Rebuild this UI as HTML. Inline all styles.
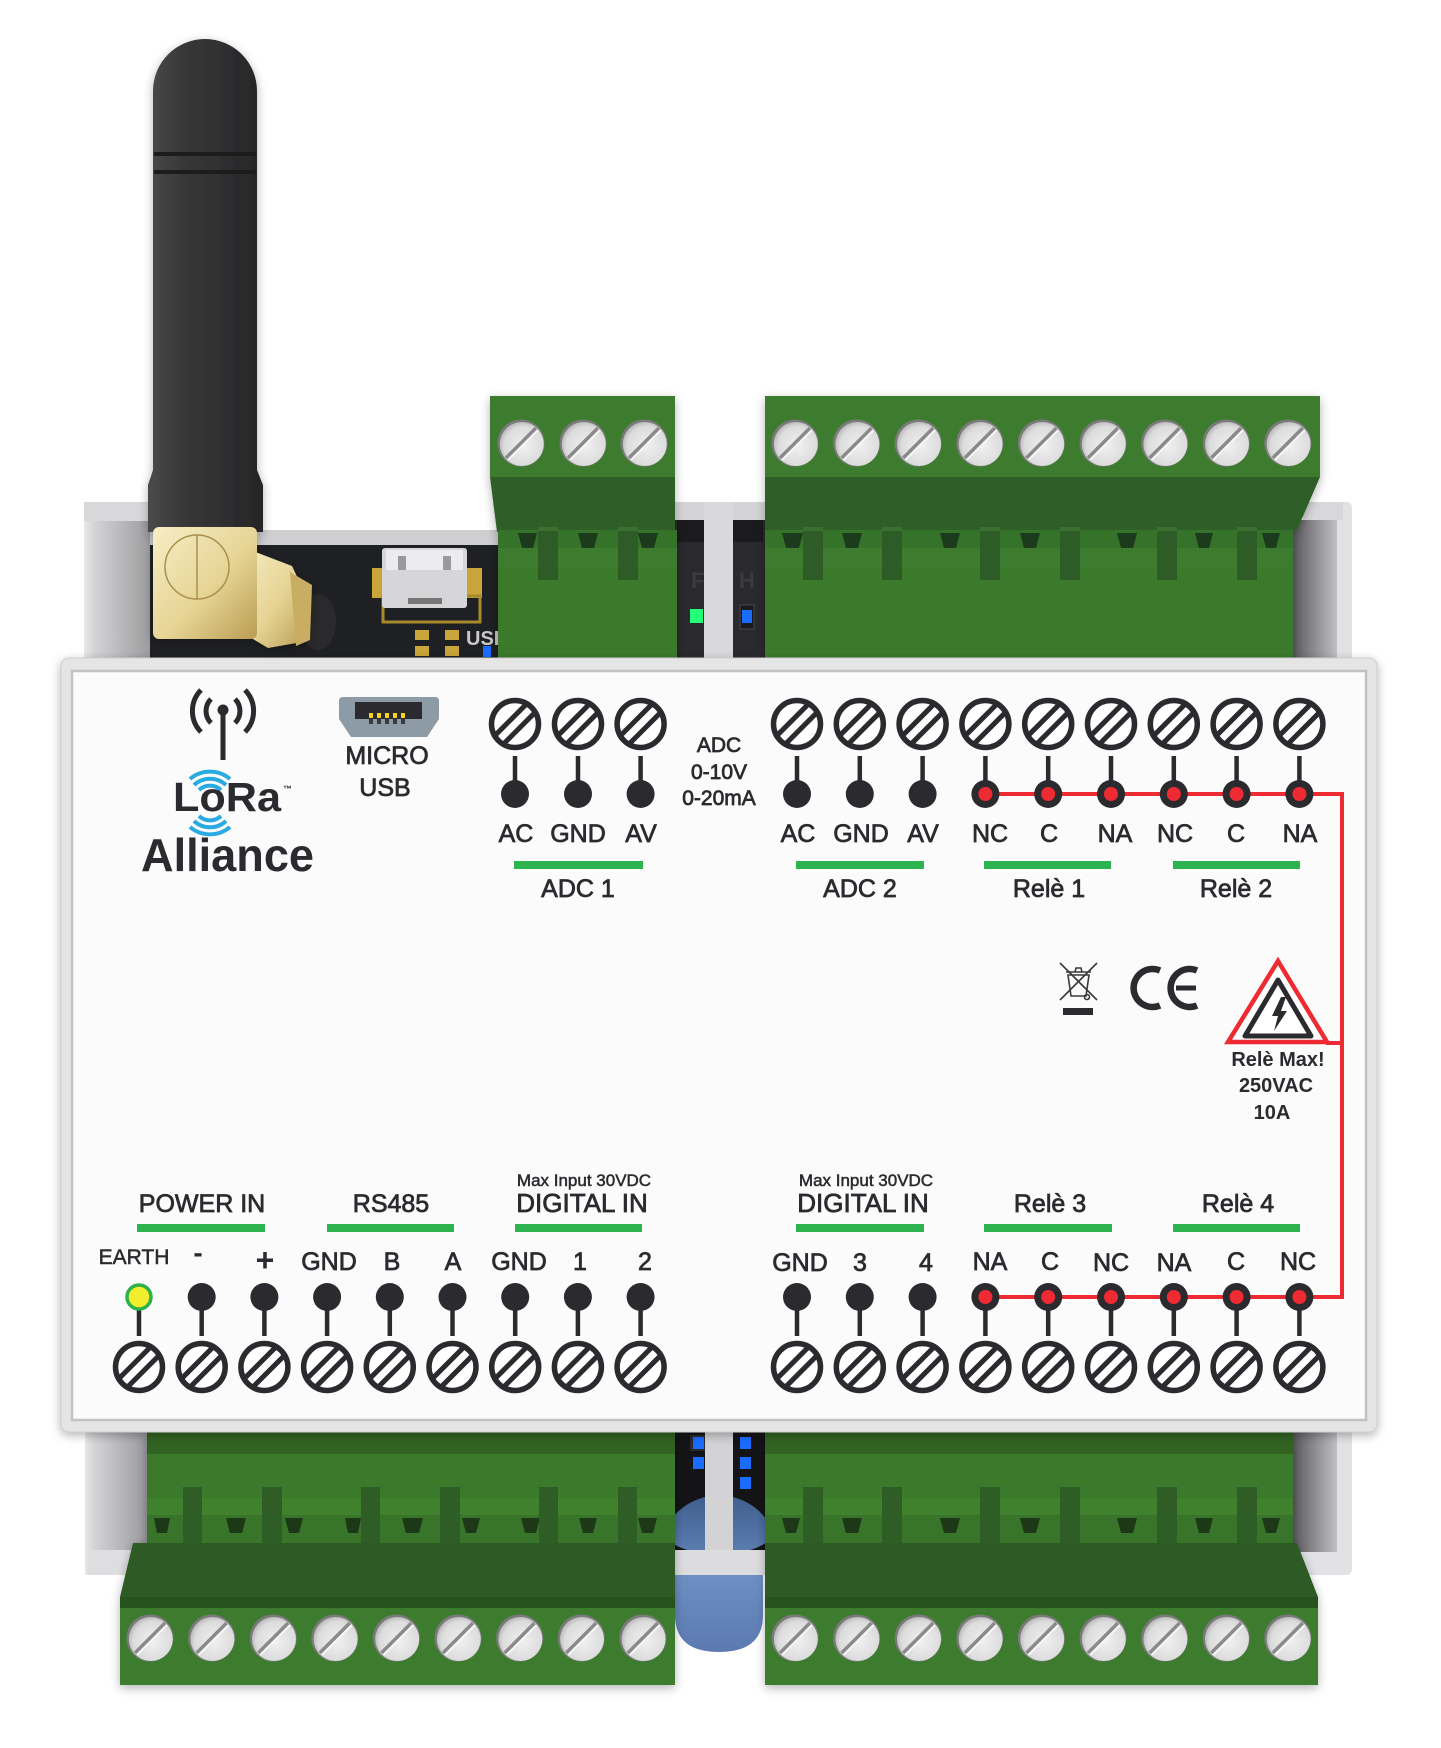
<!DOCTYPE html>
<html><head><meta charset="utf-8">
<style>
html,body{margin:0;padding:0;background:#fff;}
svg{display:block;}
text{font-family:"Liberation Sans",Arial,sans-serif;fill:#2b2a2e;}
.w text, text.w{stroke:#2b2a2e;stroke-width:0.75px;}
</style></head><body>
<svg width="1441" height="1748" viewBox="0 0 1441 1748" xmlns="http://www.w3.org/2000/svg">
<defs>
 <linearGradient id="ant" x1="0" x2="1" y1="0" y2="0"><stop offset="0" stop-color="#4a4a4c"/><stop offset="0.3" stop-color="#38383a"/><stop offset="1" stop-color="#262628"/></linearGradient>
 <linearGradient id="gold" x1="0" x2="1" y1="0" y2="1"><stop offset="0" stop-color="#f7edc6"/><stop offset="0.55" stop-color="#e6d494"/><stop offset="1" stop-color="#b99c52"/></linearGradient>
 <radialGradient id="sg" cx="0.55" cy="0.55" r="0.6"><stop offset="0" stop-color="#f0f0f0"/><stop offset="0.75" stop-color="#dcdcdc"/><stop offset="1" stop-color="#b0b0b0"/></radialGradient>
 <linearGradient id="hl" x1="0" x2="1"><stop offset="0" stop-color="#e8e8e8"/><stop offset="0.15" stop-color="#d4d4d6"/><stop offset="1" stop-color="#9a9a9e"/></linearGradient>
 <linearGradient id="hr" x1="0" x2="1"><stop offset="0" stop-color="#5a5a5e"/><stop offset="1" stop-color="#c0c0c3"/></linearGradient>
 <linearGradient id="dome" x1="0" x2="0" y1="0" y2="1"><stop offset="0" stop-color="#3f5e8f"/><stop offset="1" stop-color="#5b7db0"/></linearGradient>
 <linearGradient id="caps" x1="0" x2="0" y1="0" y2="1"><stop offset="0" stop-color="#6e8fc4"/><stop offset="1" stop-color="#5a7ab0"/></linearGradient>
 <filter id="sh" x="-5%" y="-5%" width="110%" height="115%"><feGaussianBlur in="SourceAlpha" stdDeviation="5"/><feOffset dy="3"/><feComponentTransfer><feFuncA type="linear" slope="0.3"/></feComponentTransfer><feMerge><feMergeNode/><feMergeNode in="SourceGraphic"/></feMerge></filter>
 <g id="s3">
  <circle r="23.5" fill="#7a7a7a"/>
  <circle r="22" cx="0.8" cy="1" fill="url(#sg)"/>
  <path d="M-15 15 L15 -15" stroke="#8a8a8a" stroke-width="3.5"/>
  <path d="M-13 17 L17 -13" stroke="#f6f6f6" stroke-width="2"/>
 </g>
 <g id="ps">
  <circle r="23.5" fill="#fff" stroke="#2b2a2e" stroke-width="5.5"/>
  <path d="M-11.8 20.3 L20.3 -11.8 M-20.3 11.8 L11.8 -20.3" stroke="#2b2a2e" stroke-width="5"/>
 </g>
 <g id="tabT"><rect x="0" y="0" width="20" height="53" fill="#2d5c26"/><rect x="0" y="0" width="20" height="4" fill="#3a7030"/></g>
</defs>

<!-- ===== TOP housing parts ===== -->
<rect x="84" y="502" width="68" height="156" fill="url(#hl)"/>
<rect x="84" y="502" width="68" height="19" fill="#d8d8da"/>
<rect x="150" y="530" width="350" height="15" fill="#cfcfd1"/>
<rect x="150" y="545" width="350" height="113" fill="#1f2023"/>
<rect x="372" y="568" width="14" height="30" fill="#c9a53a"/>
<rect x="466" y="568" width="16" height="30" fill="#c9a53a"/>
<rect x="383" y="596" width="97" height="26" fill="none" stroke="#a88a2e" stroke-width="3"/>
<rect x="382" y="548" width="85" height="60" rx="3" fill="#d6d6d8"/>
<rect x="386" y="550" width="77" height="20" fill="#ececee"/>
<rect x="398" y="556" width="8" height="14" fill="#9a9a9c"/>
<rect x="443" y="556" width="8" height="14" fill="#9a9a9c"/>
<rect x="408" y="598" width="34" height="6" fill="#777"/>
<rect x="415" y="630" width="14" height="10" fill="#c9a53a"/>
<rect x="445" y="630" width="14" height="10" fill="#c9a53a"/>
<rect x="415" y="646" width="14" height="10" fill="#c9a53a"/>
<rect x="445" y="646" width="14" height="10" fill="#c9a53a"/>
<rect x="483" y="646" width="8" height="11" fill="#1a6cff"/>
<text x="466" y="645" font-size="20" font-weight="bold" style="fill:#c8c8ca">USB</text>
<rect x="157" y="609" width="7" height="8" fill="#1a6cff"/>
<text x="158" y="675" font-size="24" font-weight="bold" style="fill:#7a7a7c">ARIO</text>
<ellipse cx="318" cy="622" rx="18" ry="28" fill="#2a2a2c"/>

<!-- top middle gap -->
<rect x="675" y="502" width="90" height="156" fill="#2a2a2e"/>
<rect x="675" y="502" width="90" height="18" fill="#d4d4d6"/>
<rect x="677" y="520" width="86" height="22" fill="#000" opacity="0.35"/>
<rect x="704" y="502" width="29" height="156" fill="#d9d9db"/>
<text x="691" y="588" font-size="22" font-weight="bold" style="fill:#3b3b3e">F</text>
<text x="739" y="588" font-size="22" font-weight="bold" style="fill:#3b3b3e">H</text>
<rect x="690" y="609" width="13" height="14" fill="#22ff77"/>
<rect x="740" y="605" width="14" height="24" fill="#1a1a1c" stroke="#48484c" stroke-width="1"/>
<rect x="742" y="610" width="10" height="13" fill="#1a6cff"/>

<!-- right top housing -->
<rect x="1293" y="520" width="44" height="138" fill="url(#hr)"/>
<path d="M1303 502 H1346 Q1352 502 1352 508 V658 H1337 V520 H1303 Z" fill="#e2e2e4"/>
<rect x="1303" y="502" width="40" height="18" fill="#d8d8da"/>

<!-- ===== TOP terminal blocks ===== -->
<g filter="url(#sh)">
 <rect x="490" y="396" width="185" height="81" fill="#3e7b2f"/>
 <polygon points="490,477 675,477 675,532 497,532" fill="#2f5e28"/>
 <rect x="498" y="530" width="179" height="128" fill="#3b7a2c"/>
 <rect x="498" y="530" width="179" height="37" fill="#36722a"/>
 <rect x="498" y="548" width="179" height="19" fill="#3c7c2e"/>
 <g fill="#1d3a1a">
  <polygon points="518,533 537,533 533,548 522,548"/>
  <polygon points="578,533 598,533 594,548 582,548"/>
  <polygon points="638,533 658,533 654,548 642,548"/>
 </g>
 <use href="#tabT" x="538" y="527"/><use href="#tabT" x="618" y="527"/>
 <use href="#s3" x="521" y="443"/><use href="#s3" x="583" y="443"/><use href="#s3" x="644" y="443"/>
</g>
<g filter="url(#sh)">
 <rect x="765" y="396" width="555" height="81" fill="#3e7b2f"/>
 <polygon points="765,477 1320,477 1297,530 765,530" fill="#2f5e28"/>
 <rect x="765" y="530" width="528" height="128" fill="#3b7a2c"/>
 <rect x="765" y="530" width="528" height="37" fill="#36722a"/>
 <rect x="765" y="548" width="528" height="19" fill="#3c7c2e"/>
 <g fill="#1d3a1a">
  <polygon points="782,533 803,533 799,548 786,548"/>
  <polygon points="842,533 862,533 858,548 846,548"/>
  <polygon points="940,533 960,533 956,548 944,548"/>
  <polygon points="1020,533 1040,533 1036,548 1024,548"/>
  <polygon points="1117,533 1137,533 1133,548 1121,548"/>
  <polygon points="1195,533 1213,533 1209,548 1199,548"/>
  <polygon points="1262,533 1280,533 1276,548 1266,548"/>
 </g>
 <use href="#tabT" x="803" y="527"/><use href="#tabT" x="882" y="527"/><use href="#tabT" x="980" y="527"/>
 <use href="#tabT" x="1060" y="527"/><use href="#tabT" x="1157" y="527"/><use href="#tabT" x="1237" y="527"/>
 <use href="#s3" x="795" y="443"/><use href="#s3" x="856.6" y="443"/><use href="#s3" x="918.2" y="443"/>
 <use href="#s3" x="979.8" y="443"/><use href="#s3" x="1041.4" y="443"/><use href="#s3" x="1103" y="443"/>
 <use href="#s3" x="1164.6" y="443"/><use href="#s3" x="1226.2" y="443"/><use href="#s3" x="1287.8" y="443"/>
</g>

<!-- ===== Antenna ===== -->
<g filter="url(#sh)">
 <path d="M153 91 A52 52 0 0 1 257 91 L257 470 L263 485 L263 532 L148 532 L148 485 L153 470 Z" fill="url(#ant)"/>
 <rect x="154" y="152" width="102" height="4" fill="#1b1b1d"/>
 <rect x="154" y="170" width="102" height="4" fill="#1b1b1d"/>
 <polygon points="245,548 292,566 308,600 302,642 268,648 238,630" fill="url(#gold)"/>
 <polygon points="290,572 312,585 310,640 296,646" fill="#c8ad62"/>
 <rect x="153" y="527" width="104" height="112" rx="6" fill="url(#gold)"/>
 <circle cx="197" cy="567" r="32" fill="none" stroke="#a98f4c" stroke-width="1.5"/>
 <line x1="197" y1="535" x2="197" y2="599" stroke="#a98f4c" stroke-width="1.5"/>
</g>

<!-- ===== BOTTOM housing parts ===== -->
<rect x="85" y="1432" width="62" height="143" fill="url(#hl)"/>
<rect x="90" y="1550" width="60" height="25" fill="#dedee0"/>
<rect x="1293" y="1432" width="44" height="143" fill="url(#hr)"/>
<path d="M1337 1432 H1352 V1569 Q1352 1575 1346 1575 H1293 V1552 H1337 Z" fill="#e2e2e4"/>
<rect x="675" y="1432" width="90" height="118" fill="#141416"/>
<rect x="690" y="1435" width="18" height="16" fill="#2a2a2c"/>
<rect x="693" y="1437" width="11" height="12" fill="#1a6cff"/>
<rect x="693" y="1457" width="11" height="12" fill="#1a6cff"/>
<rect x="740" y="1437" width="11" height="12" fill="#1a6cff"/>
<rect x="740" y="1457" width="11" height="12" fill="#1a6cff"/>
<rect x="740" y="1477" width="11" height="12" fill="#1a6cff"/>
<path d="M661 1535 Q680 1497 719 1495 Q758 1497 776 1535 Q760 1550 740 1552 L698 1552 Q678 1550 661 1535 Z" fill="url(#dome)"/>
<path d="M675 1575 L763 1575 L763 1615 Q763 1652 719 1652 Q675 1652 675 1615 Z" fill="url(#caps)"/>
<rect x="705" y="1432" width="28" height="143" fill="#d3d3d5"/>
<rect x="675" y="1550" width="90" height="25" fill="#dcdcde"/>

<!-- ===== BOTTOM terminal blocks ===== -->
<g filter="url(#sh)">
 <rect x="147" y="1432" width="528" height="111" fill="#3b7a2c"/>
 <rect x="147" y="1432" width="528" height="22" fill="#000" opacity="0.18"/>
 <rect x="147" y="1498" width="528" height="17" fill="#40812f"/>
 <rect x="147" y="1515" width="528" height="28" fill="#38752a"/>
 <g fill="#1c3819">
  <polygon points="154,1518 170,1518 167,1533 157,1533"/>
  <polygon points="226,1518 246,1518 242,1533 230,1533"/>
  <polygon points="285,1518 303,1518 299,1533 289,1533"/>
  <polygon points="345,1518 361,1518 358,1533 348,1533"/>
  <polygon points="402,1518 423,1518 419,1533 406,1533"/>
  <polygon points="462,1518 480,1518 476,1533 466,1533"/>
  <polygon points="521,1518 540,1518 536,1533 525,1533"/>
  <polygon points="579,1518 597,1518 593,1533 583,1533"/>
  <polygon points="638,1518 657,1518 653,1533 642,1533"/>
 </g>
 <g fill="#2d5d26">
  <rect x="183" y="1487" width="19" height="56"/><rect x="262" y="1487" width="20" height="56"/>
  <rect x="361" y="1487" width="19" height="56"/><rect x="440" y="1487" width="20" height="56"/>
  <rect x="539" y="1487" width="19" height="56"/><rect x="618" y="1487" width="19" height="56"/>
 </g>
 <polygon points="133,1543 675,1543 675,1597 120,1597" fill="#2f5a28"/>
 <rect x="120" y="1597" width="555" height="88" fill="#3c7b2d"/>
 <rect x="120" y="1597" width="555" height="11" fill="#28521f"/>
 <use href="#s3" x="150" y="1638"/><use href="#s3" x="211.6" y="1638"/><use href="#s3" x="273.2" y="1638"/>
 <use href="#s3" x="334.8" y="1638"/><use href="#s3" x="396.4" y="1638"/><use href="#s3" x="458" y="1638"/>
 <use href="#s3" x="519.6" y="1638"/><use href="#s3" x="581.2" y="1638"/><use href="#s3" x="642.8" y="1638"/>
</g>
<g filter="url(#sh)">
 <rect x="765" y="1432" width="528" height="111" fill="#3b7a2c"/>
 <rect x="765" y="1432" width="528" height="22" fill="#000" opacity="0.18"/>
 <rect x="765" y="1498" width="528" height="17" fill="#40812f"/>
 <rect x="765" y="1515" width="528" height="28" fill="#38752a"/>
 <g fill="#1c3819">
  <polygon points="782,1518 800,1518 796,1533 786,1533"/>
  <polygon points="842,1518 862,1518 858,1533 846,1533"/>
  <polygon points="940,1518 960,1518 956,1533 944,1533"/>
  <polygon points="1020,1518 1040,1518 1036,1533 1024,1533"/>
  <polygon points="1117,1518 1137,1518 1133,1533 1121,1533"/>
  <polygon points="1195,1518 1213,1518 1209,1533 1199,1533"/>
  <polygon points="1262,1518 1280,1518 1276,1533 1266,1533"/>
 </g>
 <g fill="#2d5d26">
  <rect x="803" y="1487" width="20" height="56"/><rect x="882" y="1487" width="20" height="56"/>
  <rect x="980" y="1487" width="20" height="56"/><rect x="1060" y="1487" width="20" height="56"/>
  <rect x="1157" y="1487" width="20" height="56"/><rect x="1237" y="1487" width="20" height="56"/>
 </g>
 <polygon points="765,1543 1297,1543 1318,1597 765,1597" fill="#2f5a28"/>
 <rect x="765" y="1597" width="553" height="88" fill="#3c7b2d"/>
 <rect x="765" y="1597" width="553" height="11" fill="#28521f"/>
 <use href="#s3" x="795" y="1638"/><use href="#s3" x="856.6" y="1638"/><use href="#s3" x="918.2" y="1638"/>
 <use href="#s3" x="979.8" y="1638"/><use href="#s3" x="1041.4" y="1638"/><use href="#s3" x="1103" y="1638"/>
 <use href="#s3" x="1164.6" y="1638"/><use href="#s3" x="1226.2" y="1638"/><use href="#s3" x="1287.8" y="1638"/>
</g>

<!-- ===== FRONT PANEL ===== -->
<g filter="url(#sh)">
 <rect x="61" y="658" width="1316" height="774" rx="8" fill="#e5e5e6" stroke="#cfcfd1" stroke-width="1"/>
</g>
<rect x="72" y="671" width="1294" height="749" fill="#fbfbfb" stroke="#c2c2c4" stroke-width="2.5"/>

<!-- red relay wire -->
<polyline points="985,794 1342,794 1342,1297 985,1297" fill="none" stroke="#ee2a33" stroke-width="4"/>
<line x1="1326" y1="1043" x2="1342" y2="1043" stroke="#ee2a33" stroke-width="4"/>

<!-- LoRa logo -->
<g stroke="#2b2a2e" stroke-width="5" fill="none">
 <line x1="223" y1="712" x2="223" y2="760"/>
 <path d="M211 699 A17 17 0 0 0 211 723"/>
 <path d="M235 699 A17 17 0 0 1 235 723"/>
 <path d="M201 690 A30 30 0 0 0 201 732"/>
 <path d="M245 690 A30 30 0 0 1 245 732"/>
</g>
<circle cx="223" cy="710" r="5.5" fill="#2b2a2e"/>
<g stroke="#29abe2" stroke-width="4" fill="none">
 <path d="M199 790 A16 16 0 0 1 221 790"/>
 <path d="M194 785 A23.5 23.5 0 0 1 226 785"/>
 <path d="M190 779 A31 31 0 0 1 230 779"/>
 <path d="M199 816 A16 16 0 0 0 221 816"/>
 <path d="M194 821 A23.5 23.5 0 0 0 226 821"/>
 <path d="M190 827 A31 31 0 0 0 230 827"/>
</g>
<text x="173" y="811" font-size="41" font-weight="bold" textLength="108" lengthAdjust="spacingAndGlyphs">LoRa</text>
<text x="283" y="792" font-size="9" font-weight="bold">™</text>
<text x="141" y="871" font-size="46" font-weight="bold" textLength="173" lengthAdjust="spacingAndGlyphs">Alliance</text>

<!-- Micro USB -->
<path d="M339 701 Q339 697 343 697 H435 Q439 697 439 701 V719 L427 737 H351 L339 719 Z" fill="#8d9ba6"/>
<rect x="355" y="702" width="67" height="17" fill="#2b2a2e"/>
<g fill="#f2d21c">
 <rect x="369" y="713" width="4" height="5"/><rect x="377" y="713" width="4" height="5"/><rect x="385" y="713" width="4" height="5"/><rect x="393" y="713" width="4" height="5"/><rect x="401" y="713" width="4" height="5"/>
</g>
<g fill="#3a3a3e">
 <rect x="369" y="719" width="4" height="5"/><rect x="377" y="719" width="4" height="5"/><rect x="385" y="719" width="4" height="5"/><rect x="393" y="719" width="4" height="5"/><rect x="401" y="719" width="4" height="5"/>
</g>
<g class="w" text-anchor="middle">
<text x="387" y="764" font-size="25">MICRO</text>
<text x="385" y="796" font-size="25">USB</text>
</g>

<!-- ADC note -->
<g class="w" text-anchor="middle" font-size="21">
<text x="719" y="752">ADC</text>
<text x="719" y="779">0-10V</text>
<text x="719" y="805">0-20mA</text>
</g>

<!-- TOP row stems -->
<g stroke="#2b2a2e" stroke-width="4.5">
 <line x1="515" y1="756" x2="515" y2="782"/><line x1="578" y1="756" x2="578" y2="782"/><line x1="640.6" y1="756" x2="640.6" y2="782"/>
 <line x1="797" y1="756" x2="797" y2="782"/><line x1="859.8" y1="756" x2="859.8" y2="782"/><line x1="922.6" y1="756" x2="922.6" y2="782"/>
 <line x1="985.4" y1="756" x2="985.4" y2="782"/><line x1="1048.2" y1="756" x2="1048.2" y2="782"/><line x1="1111" y1="756" x2="1111" y2="782"/>
 <line x1="1173.8" y1="756" x2="1173.8" y2="782"/><line x1="1236.6" y1="756" x2="1236.6" y2="782"/><line x1="1299.4" y1="756" x2="1299.4" y2="782"/>
</g>
<use href="#ps" x="515" y="724"/><use href="#ps" x="578" y="724"/><use href="#ps" x="640.6" y="724"/>
<use href="#ps" x="797" y="724"/><use href="#ps" x="859.8" y="724"/><use href="#ps" x="922.6" y="724"/>
<use href="#ps" x="985.4" y="724"/><use href="#ps" x="1048.2" y="724"/><use href="#ps" x="1111" y="724"/>
<use href="#ps" x="1173.8" y="724"/><use href="#ps" x="1236.6" y="724"/><use href="#ps" x="1299.4" y="724"/>
<g fill="#2b2a2e">
 <circle cx="515" cy="794" r="14"/><circle cx="578" cy="794" r="14"/><circle cx="640.6" cy="794" r="14"/>
 <circle cx="797" cy="794" r="14"/><circle cx="859.8" cy="794" r="14"/><circle cx="922.6" cy="794" r="14"/>
 <circle cx="985.4" cy="794" r="14"/><circle cx="1048.2" cy="794" r="14"/><circle cx="1111" cy="794" r="14"/>
 <circle cx="1173.8" cy="794" r="14"/><circle cx="1236.6" cy="794" r="14"/><circle cx="1299.4" cy="794" r="14"/>
</g>
<g fill="#ee2a33">
 <circle cx="985.4" cy="794" r="7"/><circle cx="1048.2" cy="794" r="7"/><circle cx="1111" cy="794" r="7"/>
 <circle cx="1173.8" cy="794" r="7"/><circle cx="1236.6" cy="794" r="7"/><circle cx="1299.4" cy="794" r="7"/>
</g>
<g class="w" font-size="25" text-anchor="middle">
 <text x="516" y="842">AC</text><text x="578" y="842">GND</text><text x="641" y="842">AV</text>
 <text x="798" y="842">AC</text><text x="861" y="842">GND</text><text x="923" y="842">AV</text>
 <text x="990" y="842">NC</text><text x="1049" y="842">C</text><text x="1115" y="842">NA</text>
 <text x="1175" y="842">NC</text><text x="1236" y="842">C</text><text x="1300" y="842">NA</text>
</g>
<g fill="#2db34f">
 <rect x="514" y="861" width="129" height="8"/><rect x="796" y="861" width="128" height="8"/>
 <rect x="984" y="861" width="127" height="8"/><rect x="1173" y="861" width="127" height="8"/>
</g>
<g class="w" font-size="25" text-anchor="middle">
 <text x="578" y="897">ADC 1</text><text x="860" y="897">ADC 2</text>
 <text x="1049" y="897">Relè 1</text><text x="1236" y="897">Relè 2</text>
</g>

<!-- WEEE + CE + warning -->
<g stroke="#3a3a3c" stroke-width="1.6" fill="none">
 <path d="M1068 975 L1089 975 L1086 996 L1071 996 Z"/>
 <path d="M1066 972 L1091 972"/>
 <path d="M1075 972 L1076 968 L1081 968 L1082 972"/>
 <line x1="1060" y1="963" x2="1097" y2="1000"/>
 <line x1="1097" y1="963" x2="1060" y2="1000"/>
 <circle cx="1087" cy="997" r="2.5"/>
</g>
<rect x="1063" y="1008" width="30" height="7" fill="#2b2a2e"/>
<g stroke="#2b2a2e" stroke-width="6.5" fill="none">
 <path d="M1160 970.5 A19 19 0 1 0 1160 1005.5"/>
 <path d="M1197 970.5 A19 19 0 1 0 1197 1005.5"/>
</g>
<rect x="1176" y="985.5" width="20" height="5" fill="#2b2a2e"/>
<polygon points="1278,961 1327,1042 1228,1042" fill="#fff" stroke="#ee2a33" stroke-width="4.5" stroke-linejoin="miter"/>
<polygon points="1278,980 1311,1036 1245,1036" fill="#fff" stroke="#2b2a2e" stroke-width="5" stroke-linejoin="round"/>
<polygon points="1281,997 1272,1016 1278,1016 1274,1031 1287,1011 1281,1011 1286,997" fill="#2b2a2e"/>
<g font-size="20" font-weight="bold" text-anchor="middle">
 <text x="1278" y="1066">Relè Max!</text>
 <text x="1276" y="1092">250VAC</text>
 <text x="1272" y="1119">10A</text>
</g>

<!-- BOTTOM titles -->
<g class="w" text-anchor="middle">
 <text x="584" y="1186" font-size="17" style="stroke-width:0.5px">Max Input 30VDC</text>
 <text x="866" y="1186" font-size="17" style="stroke-width:0.5px">Max Input 30VDC</text>
 <text x="202" y="1212" font-size="25">POWER IN</text>
 <text x="391" y="1212" font-size="25">RS485</text>
 <text x="582" y="1212" font-size="26">DIGITAL IN</text>
 <text x="863" y="1212" font-size="26">DIGITAL IN</text>
 <text x="1050" y="1212" font-size="25">Relè 3</text>
 <text x="1238" y="1212" font-size="25">Relè 4</text>
</g>
<g fill="#2db34f">
 <rect x="137" y="1224" width="128" height="8"/><rect x="327" y="1224" width="127" height="8"/><rect x="515" y="1224" width="127" height="8"/>
 <rect x="796" y="1224" width="128" height="8"/><rect x="984" y="1224" width="128" height="8"/><rect x="1173" y="1224" width="127" height="8"/>
</g>
<text class="w" x="134" y="1264" font-size="21" text-anchor="middle" style="stroke-width:0.5px">EARTH</text>
<text x="198" y="1262" font-size="28" font-weight="bold" text-anchor="middle">-</text>
<text x="265" y="1271" font-size="32" font-weight="bold" text-anchor="middle">+</text>
<g class="w" font-size="25" text-anchor="middle">
 <text x="329" y="1270">GND</text><text x="392" y="1270">B</text><text x="453" y="1270">A</text>
 <text x="519" y="1270">GND</text><text x="580" y="1270">1</text><text x="645" y="1270">2</text>
 <text x="800" y="1271">GND</text><text x="860" y="1271">3</text><text x="926" y="1271">4</text>
 <text x="990" y="1270">NA</text><text x="1050" y="1270">C</text><text x="1111" y="1271">NC</text>
 <text x="1174" y="1271">NA</text><text x="1236" y="1270">C</text><text x="1298" y="1270">NC</text>
</g>
<g stroke="#2b2a2e" stroke-width="4.5">
 <line x1="139" y1="1308" x2="139" y2="1336"/><line x1="201.7" y1="1308" x2="201.7" y2="1336"/><line x1="264.4" y1="1308" x2="264.4" y2="1336"/>
 <line x1="327.1" y1="1308" x2="327.1" y2="1336"/><line x1="389.8" y1="1308" x2="389.8" y2="1336"/><line x1="452.5" y1="1308" x2="452.5" y2="1336"/>
 <line x1="515.2" y1="1308" x2="515.2" y2="1336"/><line x1="577.9" y1="1308" x2="577.9" y2="1336"/><line x1="640.6" y1="1308" x2="640.6" y2="1336"/>
 <line x1="797" y1="1308" x2="797" y2="1336"/><line x1="859.8" y1="1308" x2="859.8" y2="1336"/><line x1="922.6" y1="1308" x2="922.6" y2="1336"/>
 <line x1="985.4" y1="1308" x2="985.4" y2="1336"/><line x1="1048.2" y1="1308" x2="1048.2" y2="1336"/><line x1="1111" y1="1308" x2="1111" y2="1336"/>
 <line x1="1173.8" y1="1308" x2="1173.8" y2="1336"/><line x1="1236.6" y1="1308" x2="1236.6" y2="1336"/><line x1="1299.4" y1="1308" x2="1299.4" y2="1336"/>
</g>
<circle cx="139" cy="1297" r="12" fill="#f3ee2b" stroke="#2eb04b" stroke-width="3.5"/>
<g fill="#2b2a2e">
 <circle cx="201.7" cy="1297" r="14"/><circle cx="264.4" cy="1297" r="14"/>
 <circle cx="327.1" cy="1297" r="14"/><circle cx="389.8" cy="1297" r="14"/><circle cx="452.5" cy="1297" r="14"/>
 <circle cx="515.2" cy="1297" r="14"/><circle cx="577.9" cy="1297" r="14"/><circle cx="640.6" cy="1297" r="14"/>
 <circle cx="797" cy="1297" r="14"/><circle cx="859.8" cy="1297" r="14"/><circle cx="922.6" cy="1297" r="14"/>
 <circle cx="985.4" cy="1297" r="14"/><circle cx="1048.2" cy="1297" r="14"/><circle cx="1111" cy="1297" r="14"/>
 <circle cx="1173.8" cy="1297" r="14"/><circle cx="1236.6" cy="1297" r="14"/><circle cx="1299.4" cy="1297" r="14"/>
</g>
<g fill="#ee2a33">
 <circle cx="985.4" cy="1297" r="7"/><circle cx="1048.2" cy="1297" r="7"/><circle cx="1111" cy="1297" r="7"/>
 <circle cx="1173.8" cy="1297" r="7"/><circle cx="1236.6" cy="1297" r="7"/><circle cx="1299.4" cy="1297" r="7"/>
</g>
<use href="#ps" x="139" y="1367"/><use href="#ps" x="201.7" y="1367"/><use href="#ps" x="264.4" y="1367"/>
<use href="#ps" x="327.1" y="1367"/><use href="#ps" x="389.8" y="1367"/><use href="#ps" x="452.5" y="1367"/>
<use href="#ps" x="515.2" y="1367"/><use href="#ps" x="577.9" y="1367"/><use href="#ps" x="640.6" y="1367"/>
<use href="#ps" x="797" y="1367"/><use href="#ps" x="859.8" y="1367"/><use href="#ps" x="922.6" y="1367"/>
<use href="#ps" x="985.4" y="1367"/><use href="#ps" x="1048.2" y="1367"/><use href="#ps" x="1111" y="1367"/>
<use href="#ps" x="1173.8" y="1367"/><use href="#ps" x="1236.6" y="1367"/><use href="#ps" x="1299.4" y="1367"/>
</svg>
</body></html>
